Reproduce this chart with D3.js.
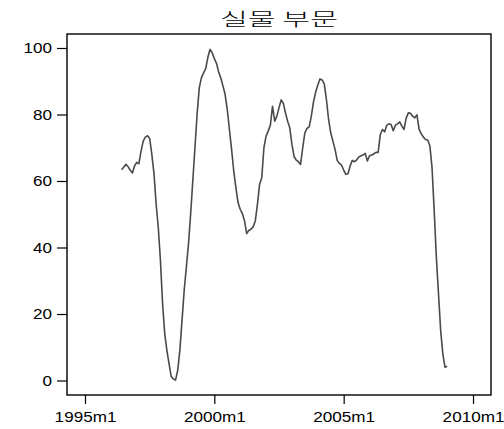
<!DOCTYPE html>
<html>
<head>
<meta charset="utf-8">
<script src="https://cdn.jsdelivr.net/npm/d3@7"></script>
<style>
  html, body { margin: 0; padding: 0; background: #fff; }
  svg { display: block; }
  .tick text { font-family: "Liberation Sans", Arial, sans-serif; }
</style>
</head>
<body>
<svg id="chart" width="504" height="429"></svg>
<script>
// Monthly index, first observation 1996m6, last 2009m1
const startYear = 1996;
const startMonth = 6;
const realSector = [
  63.4, 64.2, 65.0, 64.3, 63.2, 62.4, 64.6, 65.6, 65.2, 69.0, 72.0, 73.2, 73.6, 72.8, 68.0, 62.3,
  53.0, 46.0, 36.0, 23.0, 14.0, 9.0, 5.0, 1.2, 0.5, 0.1, 3.0, 9.0, 18.0, 27.0, 34.0, 41.0,
  50.0, 60.0, 70.0, 80.0, 88.0, 91.0, 92.5, 93.8, 97.2, 99.6, 98.6, 96.8, 95.4, 92.8, 91.0, 88.6,
  86.0, 81.5, 75.5, 69.5, 63.0, 58.0, 53.5, 51.5, 50.2, 48.0, 44.2, 45.1, 45.5, 46.2, 48.0, 53.0,
  59.0, 61.0, 70.0, 73.5, 75.0, 76.8, 82.5, 78.0, 79.5, 82.0, 84.4, 83.4, 80.5, 78.0, 76.0, 71.0,
  67.3, 66.3, 65.8, 65.0, 70.0, 74.5, 75.8, 76.3, 79.5, 83.8, 86.7, 88.9, 90.7, 90.4, 89.2, 84.5,
  78.5, 74.5, 72.0, 69.5, 66.2, 65.3, 64.8, 63.3, 62.0, 62.2, 64.5, 66.2, 65.8, 66.3, 67.2, 67.6,
  67.8, 68.3, 66.0, 67.6, 67.8, 68.2, 68.6, 68.6, 74.0, 75.5, 74.8, 76.8, 77.2, 77.0, 75.1, 76.8,
  77.2, 77.8, 76.5, 75.5, 78.9, 80.5, 80.4, 79.5, 79.0, 79.9, 75.5, 74.2, 73.2, 72.5, 72.3, 70.5,
  64.0, 51.0, 37.0, 26.0, 15.0, 8.0, 4.0, 4.3
];
const xTickMonths = [0, 60, 120, 180];               // months since 1995m1
const xTickLabels = ["1995m1", "2000m1", "2005m1", "2010m1"];
const yTicks = [0, 20, 40, 60, 80, 100];
const title = "실물 부문";

const svg = d3.select("#chart");
const frame = { left: 67, right: 491, top: 34, bottom: 395 };
const labelStretch = 1.14;   // wide tick-label lettering

const monthsFrom1995 = (i) => (startYear - 1995) * 12 + (startMonth - 1) + i;

const x = d3.scaleLinear().domain([0, 180]).range([85, 473]);
const y = d3.scaleLinear().domain([0, 100]).range([380.5, 48]);

// Plot region border
svg.append("rect")
  .attr("x", frame.left).attr("y", frame.top)
  .attr("width", frame.right - frame.left)
  .attr("height", frame.bottom - frame.top)
  .attr("fill", "none").attr("stroke", "#000").attr("stroke-width", 1.4);

// Y axis
const yAxis = d3.axisLeft(y).tickValues(yTicks).tickSize(10).tickPadding(5);
svg.append("g")
  .attr("transform", `translate(${frame.left},0)`)
  .call(yAxis)
  .call(g => g.select(".domain").remove())
  .call(g => g.selectAll(".tick line").attr("stroke", "#000").attr("stroke-width", 1.2))
  .call(g => g.selectAll(".tick text")
    .attr("font-size", 15).attr("fill", "#000")
    .attr("x", -15 / labelStretch)
    .attr("transform", `scale(${labelStretch},1)`));

// X axis
const xAxis = d3.axisBottom(x).tickValues(xTickMonths)
  .tickFormat((d, i) => xTickLabels[i]).tickSize(9).tickPadding(7);
svg.append("g")
  .attr("transform", `translate(0,${frame.bottom})`)
  .call(xAxis)
  .call(g => g.select(".domain").remove())
  .call(g => g.selectAll(".tick line").attr("stroke", "#000").attr("stroke-width", 1.2))
  .call(g => g.selectAll(".tick text")
    .attr("font-size", 15).attr("fill", "#000")
    .attr("transform", `scale(${labelStretch},1)`));

// Series line
const line = d3.line()
  .x((d, i) => x(monthsFrom1995(i)))
  .y(d => y(d));
svg.append("path")
  .datum(realSector)
  .attr("d", line)
  .attr("fill", "none")
  .attr("stroke", "#4a4a4a")
  .attr("stroke-width", 1.6)
  .attr("stroke-linejoin", "round");

// Title, wide light lettering
svg.append("text")
  .attr("x", (frame.left + frame.right) / 2 - 59)
  .attr("y", 26)
  .attr("font-family", "'Noto Sans CJK KR', sans-serif")
  .attr("font-weight", 300)
  .attr("font-size", 18)
  .attr("textLength", 118)
  .attr("lengthAdjust", "spacingAndGlyphs")
  .attr("fill", "#000")
  .text(title);
</script>
</body>
</html>
